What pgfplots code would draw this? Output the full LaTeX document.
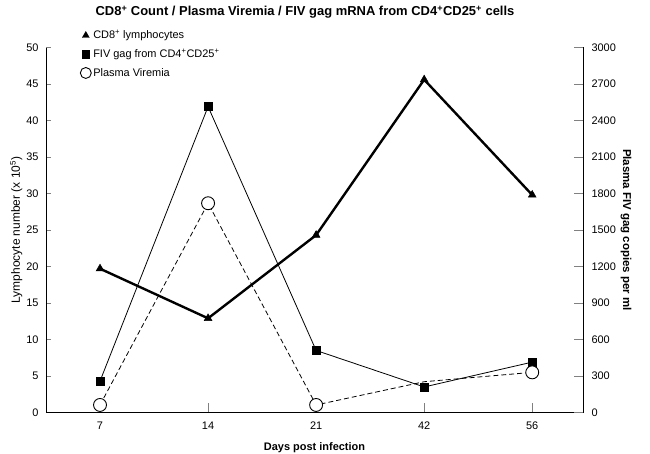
\documentclass[border=0pt]{standalone}
\usepackage{pgfplots}
\pgfplotsset{compat=1.18}
\usepackage{fontspec}
\setmainfont{Liberation Sans}
\begin{document}
\begin{tikzpicture}
\path[use as bounding box] (0,0) rectangle (650bp,454bp);
\begin{axis}[
  at={(46bp,41.5bp)}, anchor=south west,
  scale only axis, width=537bp, height=365bp,
  xmin=-0.5, xmax=4.47, ymin=0, ymax=50,
  axis x line*=bottom, axis y line*=left,
  tick align=inside,
  major tick length=5bp,
  xtick={0,...,4}, xticklabels={7,14,21,42,56},
  x tick style={draw=none},
  ytick={5,10,...,45},
  extra y ticks={0,50}, extra y tick style={draw=none},
  y tick style={line width=0.8pt},
  axis line style={line width=0.8pt},
  /pgf/number format/assume math mode=true,
  ticklabel style={font=\fontsize{11}{13}\selectfont},
  yticklabel style={xshift=-4bp},
  xticklabel style={yshift=-6bp},
  xlabel={Days post infection},
  xlabel style={font=\bfseries\fontsize{11}{13}\selectfont, yshift=-6bp},
  ylabel={Lymphocyte number (x 10\textsuperscript{5})},
  ylabel style={font=\fontsize{12}{14}\selectfont, yshift=-3bp},
  clip=false,
  legend style={at={(axis description cs:0.058,1.058)}, anchor=north west,
    draw=none, fill=none, font=\fontsize{11}{13}\selectfont, row sep=5bp},
  legend cell align=left,
]
\addlegendimage{only marks, mark=triangle*, mark size=4pt, black}
\addlegendentry{CD8\textsuperscript{+} lymphocytes}
\addlegendimage{only marks, mark=square*, mark size=3.8pt, black}
\addlegendentry{FIV gag from CD4\textsuperscript{+}CD25\textsuperscript{+}}
\addlegendimage{only marks, mark=o, mark size=5.5pt, black, mark options={line width=0.9pt}}
\addlegendentry{Plasma Viremia}
\addplot[black, line width=0.8pt, mark=square*, mark size=4pt, forget plot]
  coordinates {(0,4.3) (1,41.9) (2,8.5) (3,3.5) (4,6.9)};
\addplot[black, line width=2.4pt, mark=triangle*, mark size=4.5pt, mark options={line width=0.5pt}, forget plot]
  coordinates {(0,19.7) (1,12.9) (2,24.3) (3,45.6) (4,29.8)};
\end{axis}
\begin{axis}[
  at={(46bp,41.5bp)}, anchor=south west,
  scale only axis, width=537bp, height=365bp,
  xmin=-0.5, xmax=4.47, ymin=0, ymax=3000,
  axis y line*=right, axis x line*=bottom,
  tick align=inside,
  major tick length=9bp,
  xtick={0,...,4}, xticklabels={},
  ytick={300,600,...,2700},
  extra y ticks={0,3000}, extra y tick style={draw=none},
  tick style={line width=0.8pt},
  axis line style={line width=0.8pt},
  /pgf/number format/assume math mode=true,
  /pgf/number format/1000 sep={},
  ticklabel style={font=\fontsize{11}{13}\selectfont},
  yticklabel style={xshift=5bp},
  ylabel={Plasma FIV gag copies per ml},
  ylabel style={font=\bfseries\fontsize{11.5}{13}\selectfont, rotate=180, yshift=-2bp},
  clip=false,
]
\addplot[black, line width=0.8pt, dash pattern=on 5pt off 3pt]
  coordinates {(0,62) (1,1720) (2,62) (3,253) (4,330)};
\addplot[only marks, mark=*, mark size=6.5pt, mark options={fill=white, draw=black, line width=0.9pt}]
  coordinates {(0,62) (1,1720) (2,62) (4,330)};
\end{axis}
\node[font=\bfseries\fontsize{13}{15}\selectfont] at (305bp,442bp)
  {CD8\textsuperscript{+} Count / Plasma Viremia / FIV gag mRNA from CD4\textsuperscript{+}CD25\textsuperscript{+} cells};
\end{tikzpicture}
\end{document}
